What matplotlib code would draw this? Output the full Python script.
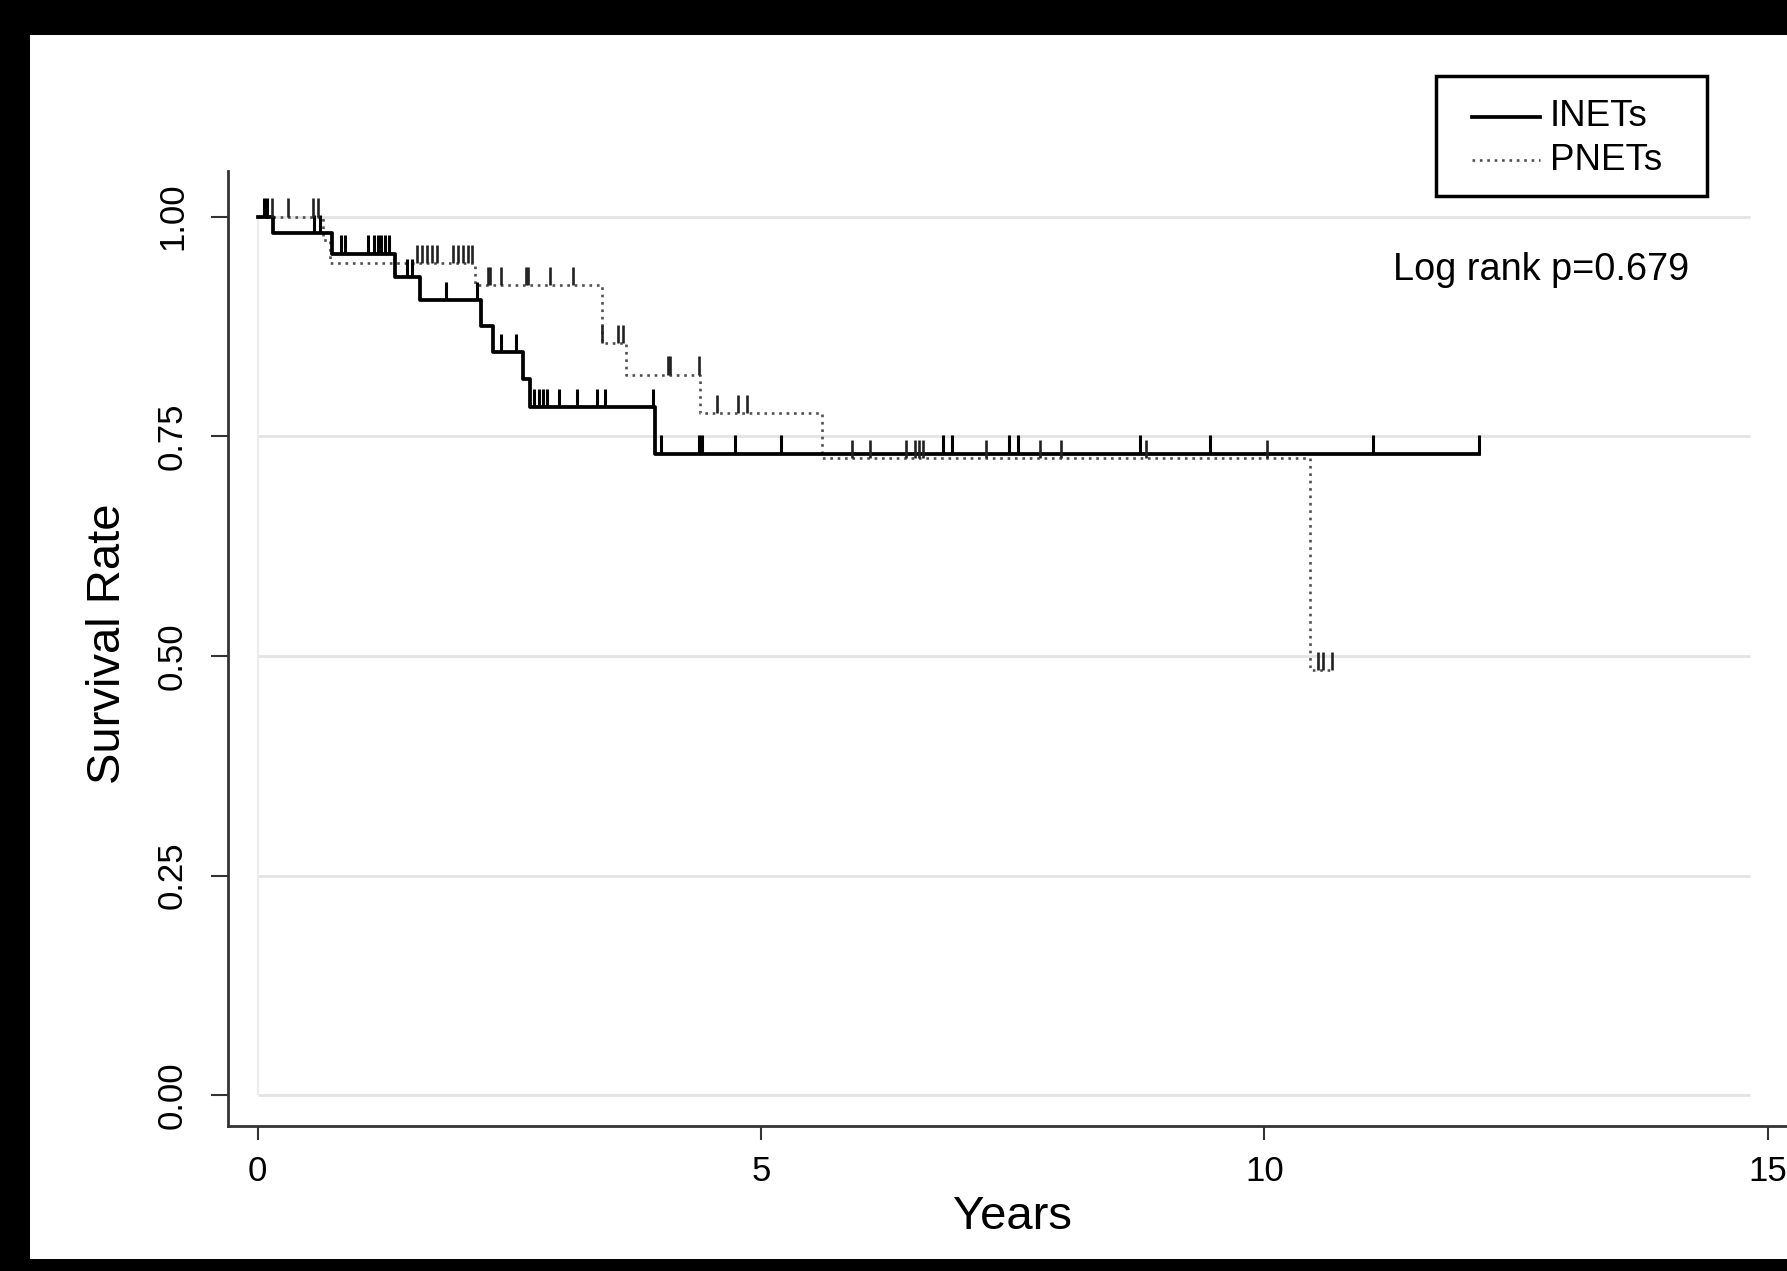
import numpy as np
import matplotlib.pyplot as plt
from matplotlib.patches import Rectangle
from matplotlib.lines import Line2D

plt.rcParams['font.family'] = ['Liberation Sans', 'DejaVu Sans']

# Kaplan-Meier steps (time in years, survival after the step)
inets_t = [0.0, 0.15, 0.74, 1.36, 1.61, 2.22, 2.34, 2.64, 2.71, 3.95]
inets_s = [1.0, 0.981, 0.958, 0.931, 0.905, 0.876, 0.846, 0.815, 0.783, 0.730]
inets_end = 12.13
inets_cens = [0.06, 0.09, 0.56, 0.62, 0.83, 0.87, 1.10, 1.16, 1.20, 1.23, 1.27, 1.31,
              1.48, 1.53, 1.87, 2.18, 2.42, 2.57, 2.75, 2.79, 2.83, 2.87, 2.99, 3.17,
              3.37, 3.45, 3.93, 4.01, 4.38, 4.41, 4.74, 5.20, 6.81, 6.90, 7.46, 7.55,
              8.76, 9.46, 11.08, 12.13]

pnets_t = [0.0, 0.65, 0.72, 2.16, 3.42, 3.66, 4.39, 5.61, 10.45]
pnets_s = [1.0, 0.973, 0.947, 0.922, 0.856, 0.820, 0.776, 0.725, 0.484]
pnets_end = 10.67
pnets_cens = [0.14, 0.30, 0.55, 0.60, 1.58, 1.63, 1.68, 1.73, 1.78, 1.94, 1.99, 2.04,
              2.09, 2.13, 2.29, 2.31, 2.42, 2.67, 2.69, 2.90, 3.13, 3.42, 3.58, 3.63,
              4.08, 4.10, 4.38, 4.56, 4.77, 4.86, 5.90, 6.08, 6.44, 6.53, 6.57, 6.61,
              7.23, 7.77, 7.98, 8.82, 10.03, 10.53, 10.58, 10.67]

y_ticks = [0.0, 0.25, 0.5, 0.75, 1.0]
y_labels = ['0.00', '0.25', '0.50', '0.75', '1.00']
x_ticks = [0, 5, 10, 15]
groups = ['INETs', 'PNETs']
p_text = 'Log rank p=0.679'


def surv_at(times, surv, x):
    idx = np.searchsorted(times, x, side='right') - 1
    return np.array(surv)[idx]


W, H = 1787, 1271
fig = plt.figure(figsize=(W / 100, H / 100), dpi=100, facecolor='black')
# white page inside the black scan border
fig.patches.append(Rectangle((30 / W, 12 / H), 1 - 30 / W, (1259 - 35) / H,
                             transform=fig.transFigure, facecolor='white',
                             edgecolor='none', zorder=-10))

ax = fig.add_axes([228 / W, 1 - 1126 / H, 1 - 228 / W, (1126 - 171) / H])
ax.set_facecolor('none')
ax.set_xlim(-0.294, 15.19)
ax.set_ylim(-0.035, 1.052)

# light grid of the plot region
ax.hlines(y_ticks, 0, 14.82, color='#e4e4e4', lw=2, zorder=1)
ax.vlines(0, 0, 1.0, color='#ececec', lw=1.5, zorder=1)

solid = dict(color='black', lw=2.7)
dotted = dict(color='#505050', lw=1.9, ls=(0, (1, 1.8)))

# curves
tx = inets_t + [inets_end]
sy = inets_s + [inets_s[-1]]
ax.step(tx, sy, where='post', zorder=4, **solid)
tx = pnets_t + [pnets_end]
sy = pnets_s + [pnets_s[-1]]
ax.step(tx, sy, where='post', zorder=3, **dotted)

# censor marks
cy = surv_at(inets_t, inets_s, inets_cens)
ax.vlines(inets_cens, cy, cy + 0.021, color='black', lw=2.2, zorder=5)
cy = surv_at(pnets_t, pnets_s, pnets_cens)
ax.vlines(pnets_cens, cy, cy + 0.021, color='#222222', lw=1.9, zorder=5)

for s in ['top', 'right']:
    ax.spines[s].set_visible(False)
for s in ['left', 'bottom']:
    ax.spines[s].set_color('#333333')
    ax.spines[s].set_linewidth(2)

ax.set_yticks(y_ticks)
ax.set_yticklabels(y_labels, rotation=90, va='center', fontsize=25)
ax.set_xticks(x_ticks)
ax.set_xticklabels([str(v) for v in x_ticks], fontsize=25)
ax.tick_params(axis='y', length=12, width=1.5, color='#333333', pad=16)
ax.tick_params(axis='x', length=10, width=1.5, color='#333333', pad=11)

ax.set_xlabel('Years', fontsize=34, va='center')
ax.xaxis.set_label_coords(0.503, -0.0953)
ax.set_ylabel('Survival Rate', fontsize=34, va='center')
ax.yaxis.set_label_coords(-0.077, 0.505)

# legend box drawn by hand to get the Stata proportions
fig.patches.append(Rectangle((1436 / W, 1 - 196 / H), (1707 - 1436) / W, 120 / H,
                             transform=fig.transFigure, facecolor='white',
                             edgecolor='black', lw=2.5, zorder=6))
for (name, style, yy) in [(groups[0], solid, 117), (groups[1], dotted, 160)]:
    fig.lines.append(Line2D([1472 / W, 1540 / W], [1 - yy / H, 1 - yy / H],
                            transform=fig.transFigure, zorder=7, **style))
    fig.text(1550 / W, 1 - yy / H, name, fontsize=26.5, va='center', ha='left',
             zorder=7)

fig.text(1393 / W, 1 - 270 / H, p_text, fontsize=27.3, va='center', ha='left')

fig.savefig('out.png', dpi=100, facecolor=fig.get_facecolor())
